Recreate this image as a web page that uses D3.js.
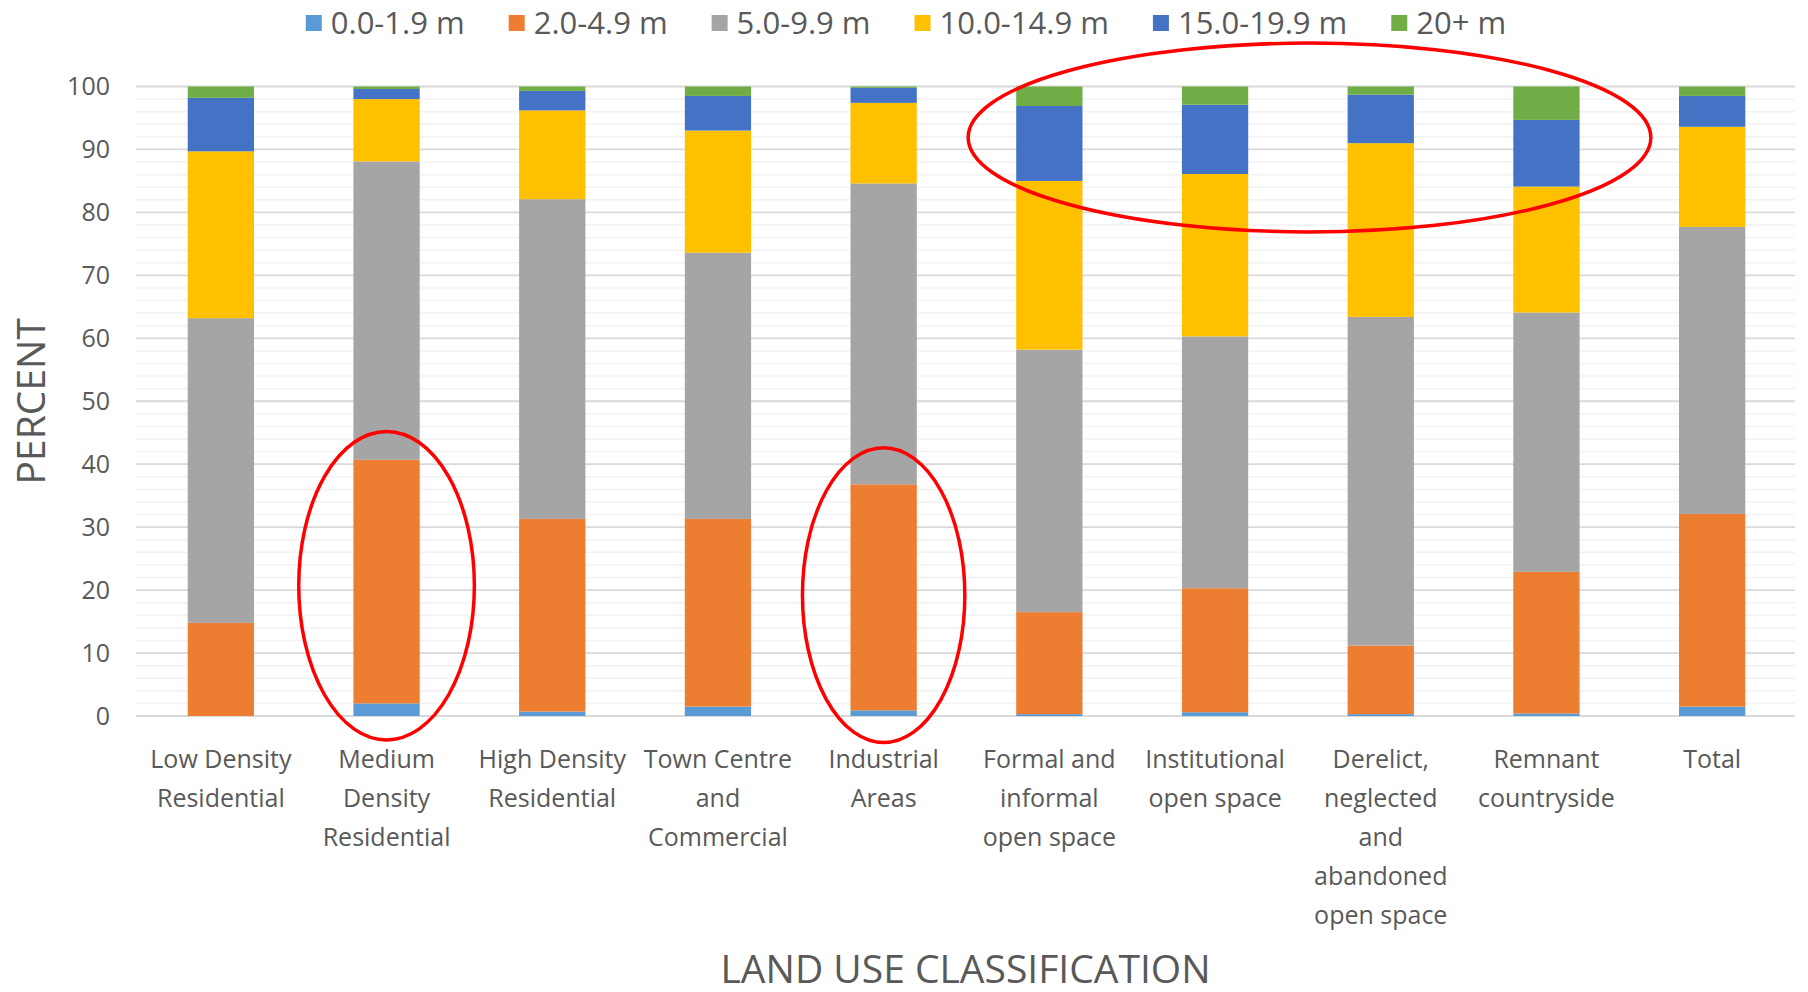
<!DOCTYPE html>
<html>
<head>
<meta charset="utf-8">
<script src="https://cdn.jsdelivr.net/npm/d3@7"></script>
<style>
  body { margin: 0; background: #fff; }
  text { font-family: "Open Sans", "Noto Sans", sans-serif; fill: #595959; }
</style>
</head>
<body>
<script>
// land use classes and their tree height shares (percent)
var categories = ["Low Density Residential", "Medium Density Residential", "High Density Residential",
    "Town Centre and Commercial", "Industrial Areas", "Formal and informal open space",
    "Institutional open space", "Derelict, neglected and abandoned open space",
    "Remnant countryside", "Total"];
var tickLabels = [["Low Density", "Residential"], ["Medium", "Density", "Residential"],
    ["High Density", "Residential"], ["Town Centre", "and", "Commercial"], ["Industrial", "Areas"],
    ["Formal and", "informal", "open space"], ["Institutional", "open space"],
    ["Derelict,", "neglected", "and", "abandoned", "open space"], ["Remnant", "countryside"], ["Total"]];
var series = ["0.0-1.9 m", "2.0-4.9 m", "5.0-9.9 m", "10.0-14.9 m", "15.0-19.9 m", "20+ m"];
var colors = ["#5B9BD5", "#ED7D31", "#A5A5A5", "#FFC000", "#4472C4", "#70AD47"];

var h0_2  = [0.0, 2.0, 0.7, 1.5, 0.9, 0.3, 0.6, 0.3, 0.4, 1.5];
var h2_5  = [14.8, 38.7, 30.6, 29.8, 35.9, 16.2, 19.7, 10.9, 22.5, 30.6];
var h5_10 = [48.4, 47.4, 50.8, 42.3, 47.8, 41.7, 40.0, 52.2, 41.2, 45.6];
var h10_15 = [26.5, 9.9, 14.1, 19.4, 12.8, 26.8, 25.8, 27.6, 20.0, 15.9];
var h15_20 = [8.5, 1.6, 3.1, 5.5, 2.4, 11.9, 11.0, 7.7, 10.6, 4.9];
var h20 = [1.8, 0.4, 0.7, 1.5, 0.2, 3.1, 2.9, 1.3, 5.3, 1.5];
var yTicks = [0, 10, 20, 30, 40, 50, 60, 70, 80, 90, 100];

// red annotation ellipses: [first category, last category, x shift in bands, centre value, x radius in bands, y radius in value]
var highlights = [
    [1, 1, 0, 20.7, 0.53, 24.5],
    [4, 4, 0, 19.2, 0.49, 23.4],
    [5, 8, 0.07, 91.9, 2.06, 15]
];

var W = 1808, H = 992;
var plotL = 136, plotR = 1795, plotT = 86.5, plotB = 716;

var rows = categories.map(function(c, i) {
    var r = {name: c};
    [h0_2, h2_5, h5_10, h10_15, h15_20, h20].forEach(function(arr, k) { r[series[k]] = arr[i]; });
    return r;
});
var stacked = d3.stack().keys(series)(rows);

var svg = d3.select("body").append("svg").attr("width", W).attr("height", H);

var x = d3.scaleBand().domain(categories).range([plotL + 2, plotR]).paddingInner(0.6).paddingOuter(0.3);
var y = d3.scaleLinear().domain([0, 100]).range([plotB, plotT]);

// gridlines
svg.append("g").selectAll("line").data(d3.range(2, 100, 2).filter(function(v){ return v % 10 != 0; }))
    .enter().append("line")
    .attr("x1", plotL).attr("x2", plotR)
    .attr("y1", function(d){ return y(d); }).attr("y2", function(d){ return y(d); })
    .attr("stroke", "#f2f2f2").attr("stroke-width", 1.5);
svg.append("g").selectAll("line").data(yTicks)
    .enter().append("line")
    .attr("x1", plotL).attr("x2", plotR)
    .attr("y1", function(d){ return y(d); }).attr("y2", function(d){ return y(d); })
    .attr("stroke", "#d9d9d9").attr("stroke-width", 1.8);

// bars
svg.append("g").selectAll("g").data(stacked).enter().append("g")
    .attr("fill", function(d, i){ return colors[i]; })
    .selectAll("rect").data(function(d){ return d; }).enter().append("rect")
    .attr("x", function(d){ return x(d.data.name); })
    .attr("width", x.bandwidth())
    .attr("y", function(d){ return y(d[1]); })
    .attr("height", function(d){ return Math.max(0, y(d[0]) - y(d[1])); });

// y axis
var yAxis = svg.append("g").attr("transform", "translate(" + plotL + ",0)")
    .call(d3.axisLeft(y).tickValues(yTicks).tickSize(0).tickPadding(26));
yAxis.select(".domain").remove();
yAxis.selectAll("text").style("font-size", "25px").attr("fill", "#595959");

// x axis with wrapped labels
var xAxis = svg.append("g").attr("transform", "translate(0," + plotB + ")")
    .call(d3.axisBottom(x).tickSize(0).tickFormat(""));
xAxis.select(".domain").remove();
xAxis.selectAll(".tick").each(function(d) {
    var i = categories.indexOf(d);
    var t = d3.select(this).append("text").attr("text-anchor", "middle")
        .style("font-size", "25px").attr("fill", "#595959");
    tickLabels[i].forEach(function(line, k) {
        t.append("tspan").attr("x", 0).attr("y", 52 + k * 38.9).text(line);
    });
});

// axis titles
svg.append("text").attr("x", (plotL + plotR) / 2).attr("y", 983).attr("text-anchor", "middle")
    .style("font-size", "39px").text("LAND USE CLASSIFICATION");
svg.append("text").attr("transform", "translate(45," + (plotT + plotB) / 2 + ") rotate(-90)")
    .attr("text-anchor", "middle").style("font-size", "39px").text("PERCENT");

// legend, centred on the page
var gap = 44;
var legend = svg.append("g");
var items = legend.selectAll("g").data(series).enter().append("g");
items.append("rect").attr("width", 16).attr("height", 16).attr("y", 15)
    .attr("fill", function(d, i){ return colors[i]; });
items.append("text").attr("x", 25).attr("y", 34).style("font-size", "31px").text(function(d){ return d; });
var pos = 0;
items.each(function() {
    var w = 25 + this.querySelector("text").getComputedTextLength();
    d3.select(this).attr("transform", "translate(" + pos + ",0)");
    pos += w + gap;
});
legend.attr("transform", "translate(" + ((W - (pos - gap)) / 2 + 2) + ",0)");

// annotation ellipses
svg.append("g").selectAll("ellipse").data(highlights).enter().append("ellipse")
    .attr("cx", function(d){ return (x(categories[d[0]]) + x(categories[d[1]])) / 2 + x.bandwidth() / 2 + d[2] * x.step(); })
    .attr("cy", function(d){ return y(d[3]); })
    .attr("rx", function(d){ return d[4] * x.step(); })
    .attr("ry", function(d){ return y(0) - y(d[5]); })
    .attr("fill", "none").attr("stroke", "#ff0000").attr("stroke-width", 3.5);
</script>
</body>
</html>
